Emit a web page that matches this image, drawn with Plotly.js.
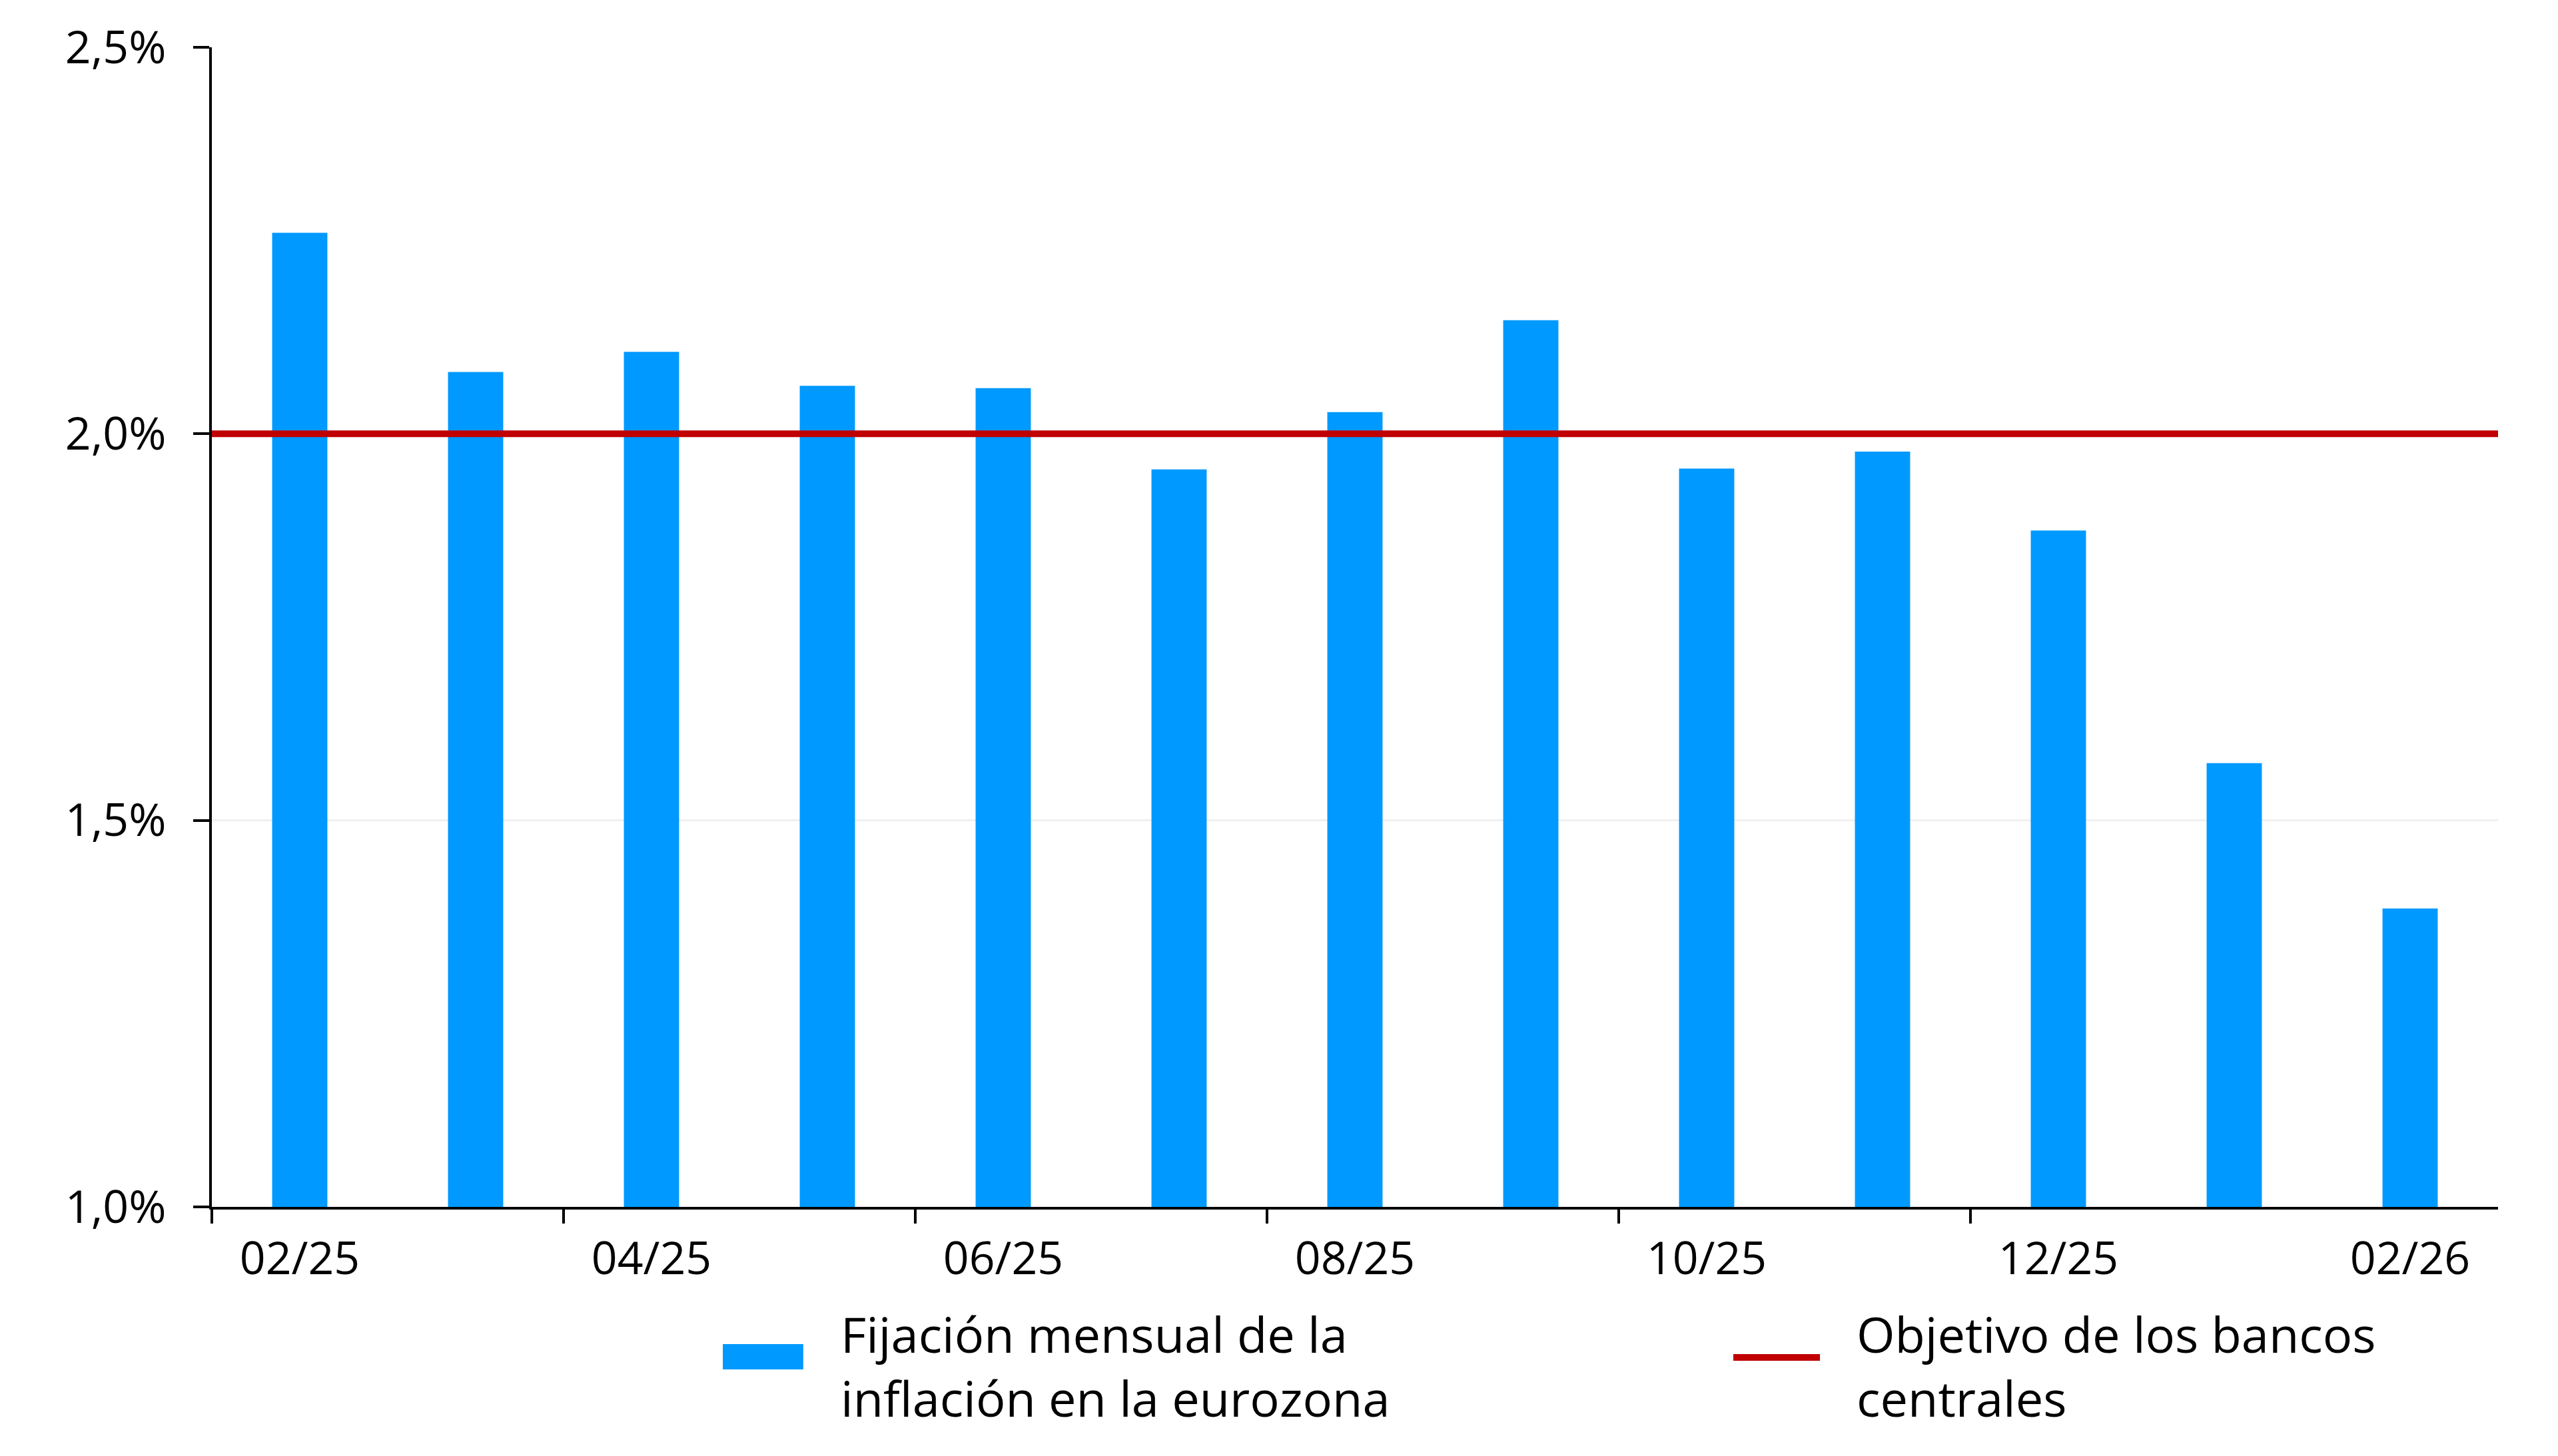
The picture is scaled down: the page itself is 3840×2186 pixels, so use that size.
<!DOCTYPE html>
<html>
<head>
<meta charset="utf-8">
<script src="https://cdn.plot.ly/plotly-3.0.1.min.js"></script>
<style>html,body{margin:0;padding:0;background:#fff;}#chart{width:3840px;height:2186px;}</style>
</head>
<body>
<div id="chart"></div>
<script>
// ---- data ----
const months = ["02/25","03/25","04/25","05/25","06/25","07/25","08/25","09/25","10/25","11/25","12/25","01/26","02/26"];
const inflationFixing = [2.26, 2.08, 2.106, 2.062, 2.059, 1.954, 2.028, 2.147, 1.955, 1.977, 1.875, 1.574, 1.386];
const targetValue = 2.0;
const seriesBarName = "Fijación mensual de la<br>inflación en la eurozona";
const seriesLineName = "Objetivo de los bancos<br>centrales";
const yTicks = [1.0, 1.5, 2.0, 2.5];

// ---- derived ----
const labelMonths = months.filter((m, i) => i % 2 === 0);
const n = months.length;
const boundaryTicks = [];
for (let i = 0; i < n - 1; i += 2) boundaryTicks.push(i - 0.5);

const FONT = "Open Sans, Noto Sans, sans-serif";
const BLUE = "#0099FF";
const RED = "#C00000";

const traces = [
  {
    type: "bar",
    x: months,
    y: inflationFixing,
    name: seriesBarName,
    marker: {color: BLUE},
    xaxis: "x",
    yaxis: "y",
    showlegend: false,
    hoverinfo: "x+y"
  },
  {
    type: "scatter",
    mode: "lines",
    x: [-0.5, n - 0.5],
    y: [targetValue, targetValue],
    name: seriesLineName,
    line: {color: RED, width: 10},
    xaxis: "x2",
    yaxis: "y",
    showlegend: false,
    hoverinfo: "skip"
  }
];

const layout = {
  width: 3840,
  height: 2186,
  margin: {l: 318, r: 90, t: 71, b: 374, pad: 0},
  paper_bgcolor: "#ffffff",
  plot_bgcolor: "#ffffff",
  font: {family: FONT, size: 68, color: "#000000"},
  separators: ",.",
  bargap: 0.686,
  xaxis: {
    type: "category",
    range: [-0.5, n - 0.5],
    tickmode: "array",
    tickvals: labelMonths,
    ticktext: labelMonths,
    ticks: "",
    showline: true,
    linecolor: "#000000",
    linewidth: 4,
    showgrid: false,
    zeroline: false,
    ticklabelstandoff: 15,
    tickfont: {family: FONT, size: 68, color: "#000000"},
    fixedrange: true
  },
  xaxis2: {
    overlaying: "x",
    anchor: "y",
    side: "bottom",
    type: "linear",
    range: [-0.5, n - 0.5],
    tickmode: "array",
    tickvals: boundaryTicks,
    ticktext: boundaryTicks.map(() => ""),
    ticks: "outside",
    ticklen: 24,
    tickwidth: 4,
    tickcolor: "#000000",
    showline: false,
    showgrid: false,
    zeroline: false,
    fixedrange: true
  },
  yaxis: {
    range: [1.0, 2.5],
    tickmode: "array",
    tickvals: yTicks,
    ticktext: yTicks.map(v => v.toFixed(1).replace(".", ",") + "%"),
    ticks: "outside",
    ticklen: 24,
    tickwidth: 4,
    tickcolor: "#000000",
    showline: true,
    linecolor: "#000000",
    linewidth: 4,
    showgrid: true,
    gridcolor: "#F0F0F0",
    gridwidth: 3,
    zeroline: false,
    ticklabelstandoff: 27,
    tickfont: {family: FONT, size: 68, color: "#000000"},
    fixedrange: true
  },
  shapes: [
    {type: "rect", xref: "paper", yref: "paper", x0: 0.2235, x1: 0.2587, y0: -0.1401, y1: -0.1183,
     fillcolor: BLUE, line: {width: 0}},
    {type: "line", xref: "paper", yref: "paper", x0: 0.6655, x1: 0.7034, y0: -0.1298, y1: -0.1298,
     line: {color: RED, width: 10}}
  ],
  annotations: [
    {xref: "paper", yref: "paper", x: 0.2745, y: -0.137, xanchor: "left", yanchor: "middle",
     align: "left", showarrow: false, text: seriesBarName,
     font: {family: FONT, size: 74, color: "#000000"}},
    {xref: "paper", yref: "paper", x: 0.7188, y: -0.137, xanchor: "left", yanchor: "middle",
     align: "left", showarrow: false, text: seriesLineName,
     font: {family: FONT, size: 74, color: "#000000"}}
  ]
};

Plotly.newPlot("chart", traces, layout, {staticPlot: true, displayModeBar: false});
</script>
</body>
</html>
